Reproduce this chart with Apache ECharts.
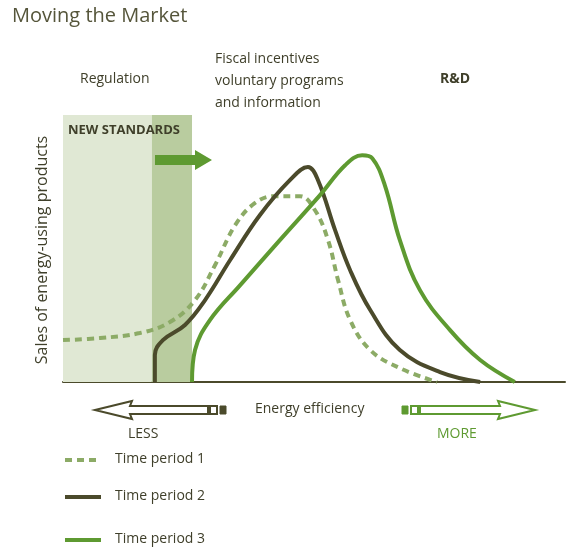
<!DOCTYPE html>
<html>
<head>
<meta charset="utf-8">
<script src="https://cdn.jsdelivr.net/npm/echarts@6/dist/echarts.min.js"></script>
<style>html,body{margin:0;background:#fff}#c{width:580px;height:553px}</style>
</head>
<body>
<div id="c"></div>
<script>
// curve data (x: energy efficiency, y: sales)
const period1 = [[0,16],[7.4,16.8],[15.3,18.7],[21.3,22.9],[26.3,31.3],[30.3,44.7],[34.3,59.9],[38.2,68.3],[42.2,71],[47.2,71],[50.2,65.6],[52.8,54.2],[54.8,38.9],[57.2,23.7],[61.2,12.2],[67.1,5.3],[74.5,0]];
const period2 = [[18.3,0],[18.3,10.3],[19.9,16],[24.3,21.8],[28.3,31.3],[33.3,46.6],[39.2,63.7],[45.2,77.1],[48.8,82.1],[50.8,77.1],[54.2,58],[57.2,42.7],[61.2,27.5],[67.1,12.2],[75.1,3.8],[83.1,0]];
const period3 = [[25.7,0],[26.3,12.2],[29.3,23.7],[35.3,37],[43.2,54.2],[51.2,71.4],[56.2,82.8],[59.6,86.6],[61.6,85.5],[64.1,75.2],[67.1,54.2],[71.1,35.1],[77.1,19.8],[83.1,8.4],[90,0]];
const seriesNames = ['Time period 1', 'Time period 2', 'Time period 3'];
const regulationBand = [0, 17.7];
const standardsBand = [17.7, 25.7];

const C1 = '#8cab66', C2 = '#4b4a2b', C3 = '#5e9a31';
const F = 'Open Sans';
const chart = echarts.init(document.getElementById('c'));

function txt(x, y, text, o) {
    return {type: 'text', x: x, y: y, z: 100, style: Object.assign({text: text, font: '14px "' + F + '"', fill: '#3f3f2a'}, o || {})};
}
function legendItem(y, color, dashed, name) {
    return [
        {type: 'line', z: 100, shape: {x1: 65, y1: y, x2: 101, y2: y}, style: {stroke: color, lineWidth: 4, lineDash: dashed ? [7, 5] : null}},
        txt(115, y - 8, name, {font: '14px "' + F + '"'})
    ];
}

chart.setOption({
    animation: false,
    grid: {left: 63, right: 15, top: 115, bottom: 171},
    xAxis: {type: 'value', min: 0, max: 100, axisLine: {show: true, lineStyle: {color: C2, width: 2}}, axisTick: {show: false}, axisLabel: {show: false}, splitLine: {show: false}},
    yAxis: {type: 'value', min: 0, max: 102, show: false},
    series: [
        {name: seriesNames[0], type: 'line', data: period1, smooth: 0.4, symbol: 'none', z: 3,
         lineStyle: {color: C1, width: 4, type: [7, 5]},
         markArea: {silent: true, data: [
             [{xAxis: regulationBand[0], yAxis: 0, itemStyle: {color: '#e0e8d4'}}, {xAxis: regulationBand[1], yAxis: 102}],
             [{xAxis: standardsBand[0], yAxis: 0, itemStyle: {color: '#b9cc9f'}}, {xAxis: standardsBand[1], yAxis: 102}]
         ]}},
        {name: seriesNames[1], type: 'line', data: period2, smooth: 0.4, symbol: 'none', z: 4, lineStyle: {color: C2, width: 4}},
        {name: seriesNames[2], type: 'line', data: period3, smooth: 0.4, symbol: 'none', z: 5, lineStyle: {color: C3, width: 4}}
    ],
    graphic: [
        txt(12, 6, 'Moving the Market', {font: '20px "' + F + '"', fill: '#55553a'}),
        txt(80, 72, 'Regulation'),
        txt(215, 48, 'Fiscal incentives\nvoluntary programs\nand information', {lineHeight: 22}),
        txt(440, 72, 'R&D', {font: 'bold 14px "' + F + '"'}),
        txt(68, 124, 'NEW STANDARDS', {font: 'bold 13px "' + F + '"'}),
        {type: 'polygon', z: 100, shape: {points: [[155,155],[195,155],[195,150],[212,160],[195,170],[195,165],[155,165]]}, style: {fill: C3}},
        {type: 'text', z: 100, x: 42, y: 250, rotation: Math.PI / 2, style: {text: 'Sales of energy-using products', font: '16px "' + F + '"', fill: '#3f3f2a', align: 'center', verticalAlign: 'middle'}},
        // bottom arrows
        {type: 'polygon', z: 100, shape: {points: [[95,410],[132,401],[130,406],[208,406],[208,414],[130,414],[132,419]]}, style: {fill: '#fff', stroke: C2, lineWidth: 2}},
        {type: 'rect', z: 100, shape: {x: 210, y: 406, width: 7, height: 8}, style: {fill: '#fff', stroke: C2, lineWidth: 2}},
        {type: 'rect', z: 100, shape: {x: 220, y: 406, width: 6, height: 8}, style: {fill: C2, stroke: C2, lineWidth: 1}},
        {type: 'polygon', z: 100, shape: {points: [[535,410],[498,401],[500,406],[420,406],[420,414],[500,414],[498,419]]}, style: {fill: '#fff', stroke: C3, lineWidth: 2}},
        {type: 'rect', z: 100, shape: {x: 411, y: 406, width: 7, height: 8}, style: {fill: '#fff', stroke: C3, lineWidth: 2}},
        {type: 'rect', z: 100, shape: {x: 402, y: 406, width: 6, height: 8}, style: {fill: C3, stroke: C3, lineWidth: 1}},
        txt(255, 402, 'Energy efficiency'),
        txt(128, 427, 'LESS'),
        txt(437, 427, 'MORE', {fill: C3}),
        ...legendItem(460, C1, true, seriesNames[0]),
        ...legendItem(497, C2, false, seriesNames[1]),
        ...legendItem(540, C3, false, seriesNames[2])
    ]
});
</script>
</body>
</html>
